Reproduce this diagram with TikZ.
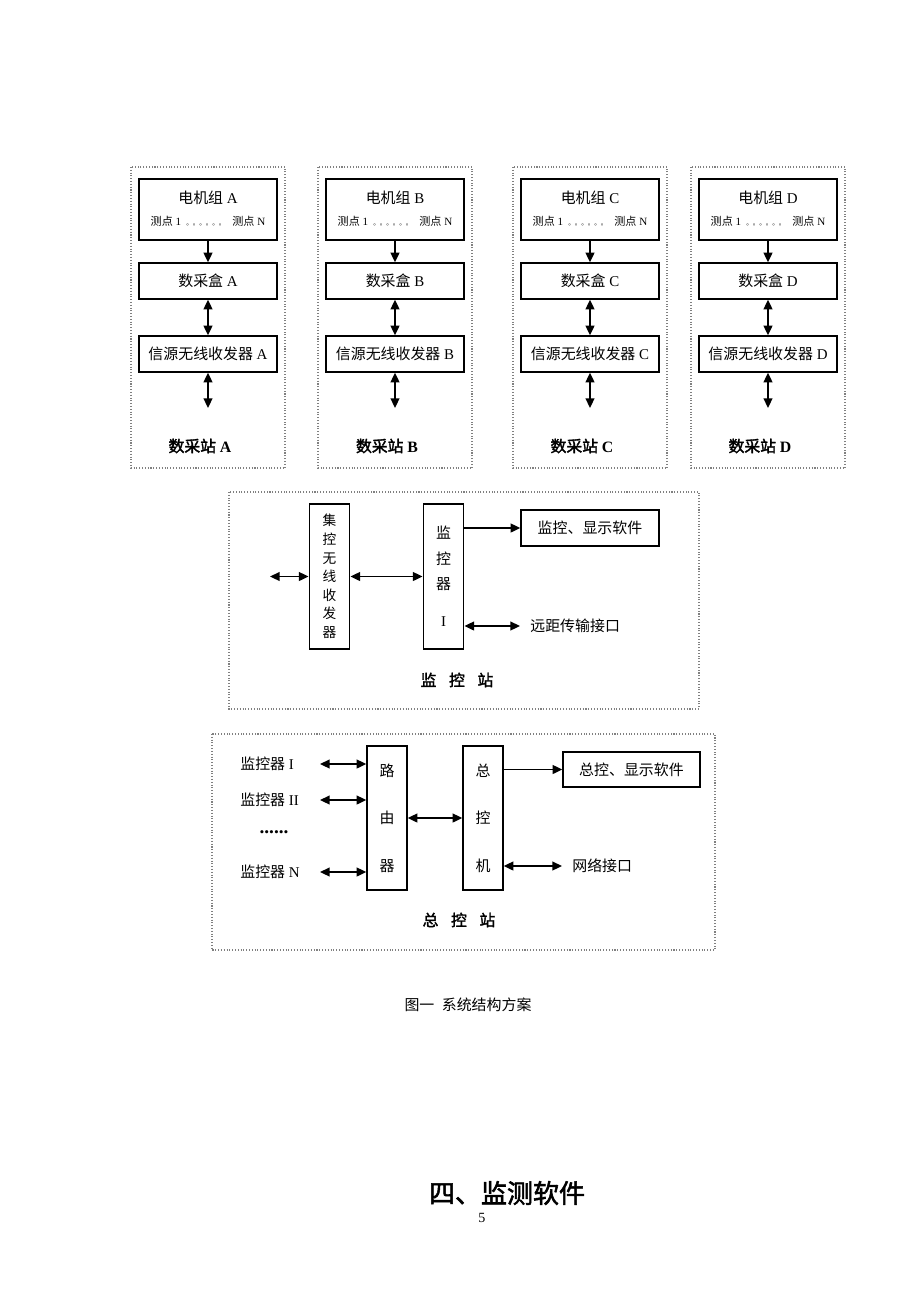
\documentclass[tikz,border=0pt]{standalone}
\usepackage{fontspec}
\setmainfont{Liberation Serif}
\newfontfamily\zhfont{Noto Sans CJK SC}[AutoFakeBold=2]
\usetikzlibrary{positioning, arrows.meta}
\newcommand{\zh}[1]{{\zhfont #1}}

\tikzset{
  frame/.style={draw=gray, densely dotted, line width=0.6pt},
  box/.style={draw, line width=0.8pt, inner sep=0pt, font=\fontsize{8.5}{10}\selectfont},
  vbox/.style={box, minimum width=0.81cm, minimum height=2.9cm, align=center},
  txt/.style={inner sep=0pt, font=\fontsize{8.5}{10}\selectfont},
  arr/.style={-{Triangle[length=5.5pt,width=5pt]}, line width=1pt},
  dbl/.style={{Triangle[length=5.5pt,width=5pt]}-{Triangle[length=5.5pt,width=5pt]}, line width=1pt},
  stlabel/.style={inner sep=0pt, font=\fontsize{9}{10}\selectfont\bfseries},
}

\begin{document}
\begin{tikzpicture}[x=0.02cm, y=-0.02cm]
	\useasboundingbox (0,0) rectangle (920,1302);
	% data stations A--D
	\foreach \s/\x in {A/131, B/318, C/513, D/691}{
		\draw[frame] (\x,167) rectangle (\x+154,468);
		\node[box, minimum width=2.76cm, minimum height=1.22cm] (mot\s) at (\x+77,209.5) {};
		\node[txt] (motname\s) at (\x+77,198) {\zh{电机组} \s};
		\node[txt, font=\fontsize{6.3}{7}\selectfont] (pts\s) at (\x+77,221)
			{\zh{测点} 1\hspace{3pt}{\zhfont\fontsize{3.7}{4}\selectfont 。。。。。。}\hspace{4pt}\zh{测点} N};
		\node[box, minimum width=2.76cm, minimum height=0.72cm] (caih\s) at (\x+77,281) {\zh{数采盒} \s};
		\node[box, minimum width=2.76cm, minimum height=0.72cm] (xy\s) at (\x+77,354) {\zh{信源无线收发器} \s};
		\coordinate (out\s) at (\x+77,408);
		\draw[arr] (mot\s) -- (caih\s);
		\draw[dbl] (caih\s) -- (xy\s);
		\draw[dbl] (xy\s) -- (out\s);
		\node[stlabel] (st\s) at (\x+69,446) {\zh{数采站} \s};
	}
	% monitoring station
	\draw[frame] (229,492) rectangle (699,709);
	\node[vbox, font=\zhfont\fontsize{7.8}{10.6}\selectfont] (jx) at (329.5,576.5) {集\\控\\无\\线\\收\\发\\器};
	\node[vbox, font=\zhfont\fontsize{8.5}{14.5}\selectfont] (jk) at (443.5,576.5) {监\\控\\器\\[6.5pt]{\rmfamily I}};
	\node[box, minimum width=2.76cm, minimum height=0.72cm] (jsw) at (590,528) {\zh{监控、显示软件}};
	\node[txt, anchor=west] (yc) at (530,626) {\zh{远距传输接口}};
	\coordinate (jin) at (270,576.5);
	\draw[dbl] (jin) -- (jx);
	\draw[dbl] (jx) -- (jk);
	\draw[arr] (jk.east |- jsw) -- (jsw);
	\draw[dbl, shorten >=0.2cm] (jk.east |- yc) -- (yc.west);
	\node[stlabel] (jkz) at (457,680) {\zh{监\hspace{0.8em}控\hspace{0.8em}站}};
	% master station
	\draw[frame] (212,734) rectangle (715,950);
	\node[vbox, minimum width=0.8cm, minimum height=2.88cm, font=\zhfont\fontsize{8.5}{27}\selectfont] (rt) at (387,818) {路\\由\\器};
	\node[vbox, minimum width=0.8cm, minimum height=2.88cm, font=\zhfont\fontsize{8.5}{27}\selectfont] (zk) at (483,818) {总\\控\\机};
	\node[box, minimum width=2.74cm, minimum height=0.7cm] (zsw) at (631.5,769.5) {\zh{总控、显示软件}};
	\node[txt, anchor=west] (wl) at (572,866) {\zh{网络接口}};
	\node[txt, anchor=west] (m1) at (240,764) {\zh{监控器} I};
	\node[txt, anchor=west] (m2) at (240,800) {\zh{监控器} II};
	\node[txt, font=\fontsize{11}{12}\selectfont\bfseries] (mdots) at (274,832) {......};
	\node[txt, anchor=west] (mn) at (240,872) {\zh{监控器} N};
	\coordinate (mx) at (320,800);
	\foreach \m in {m1, m2, mn}
		\draw[dbl] (\m -| mx) -- (\m -| rt.west);
	\draw[dbl] (rt) -- (zk);
	\draw[arr] (zk.east |- zsw) -- (zsw);
	\draw[dbl, shorten >=0.2cm] (zk.east |- wl) -- (wl.west);
	\node[stlabel] (zkz) at (459,920) {\zh{总\hspace{0.8em}控\hspace{0.8em}站}};
	% caption and text below
	\node[txt] (cap) at (468,1005) {\zh{图一\hspace{0.5em}系统结构方案}};
	\node[inner sep=0pt, font=\fontsize{14.8}{18}\selectfont\bfseries] (sec) at (507,1193) {\zh{四、监测软件}};
	\node[inner sep=0pt, font=\fontsize{8}{9}\selectfont] (pg) at (482,1218) {5};
\end{tikzpicture}
\end{document}
